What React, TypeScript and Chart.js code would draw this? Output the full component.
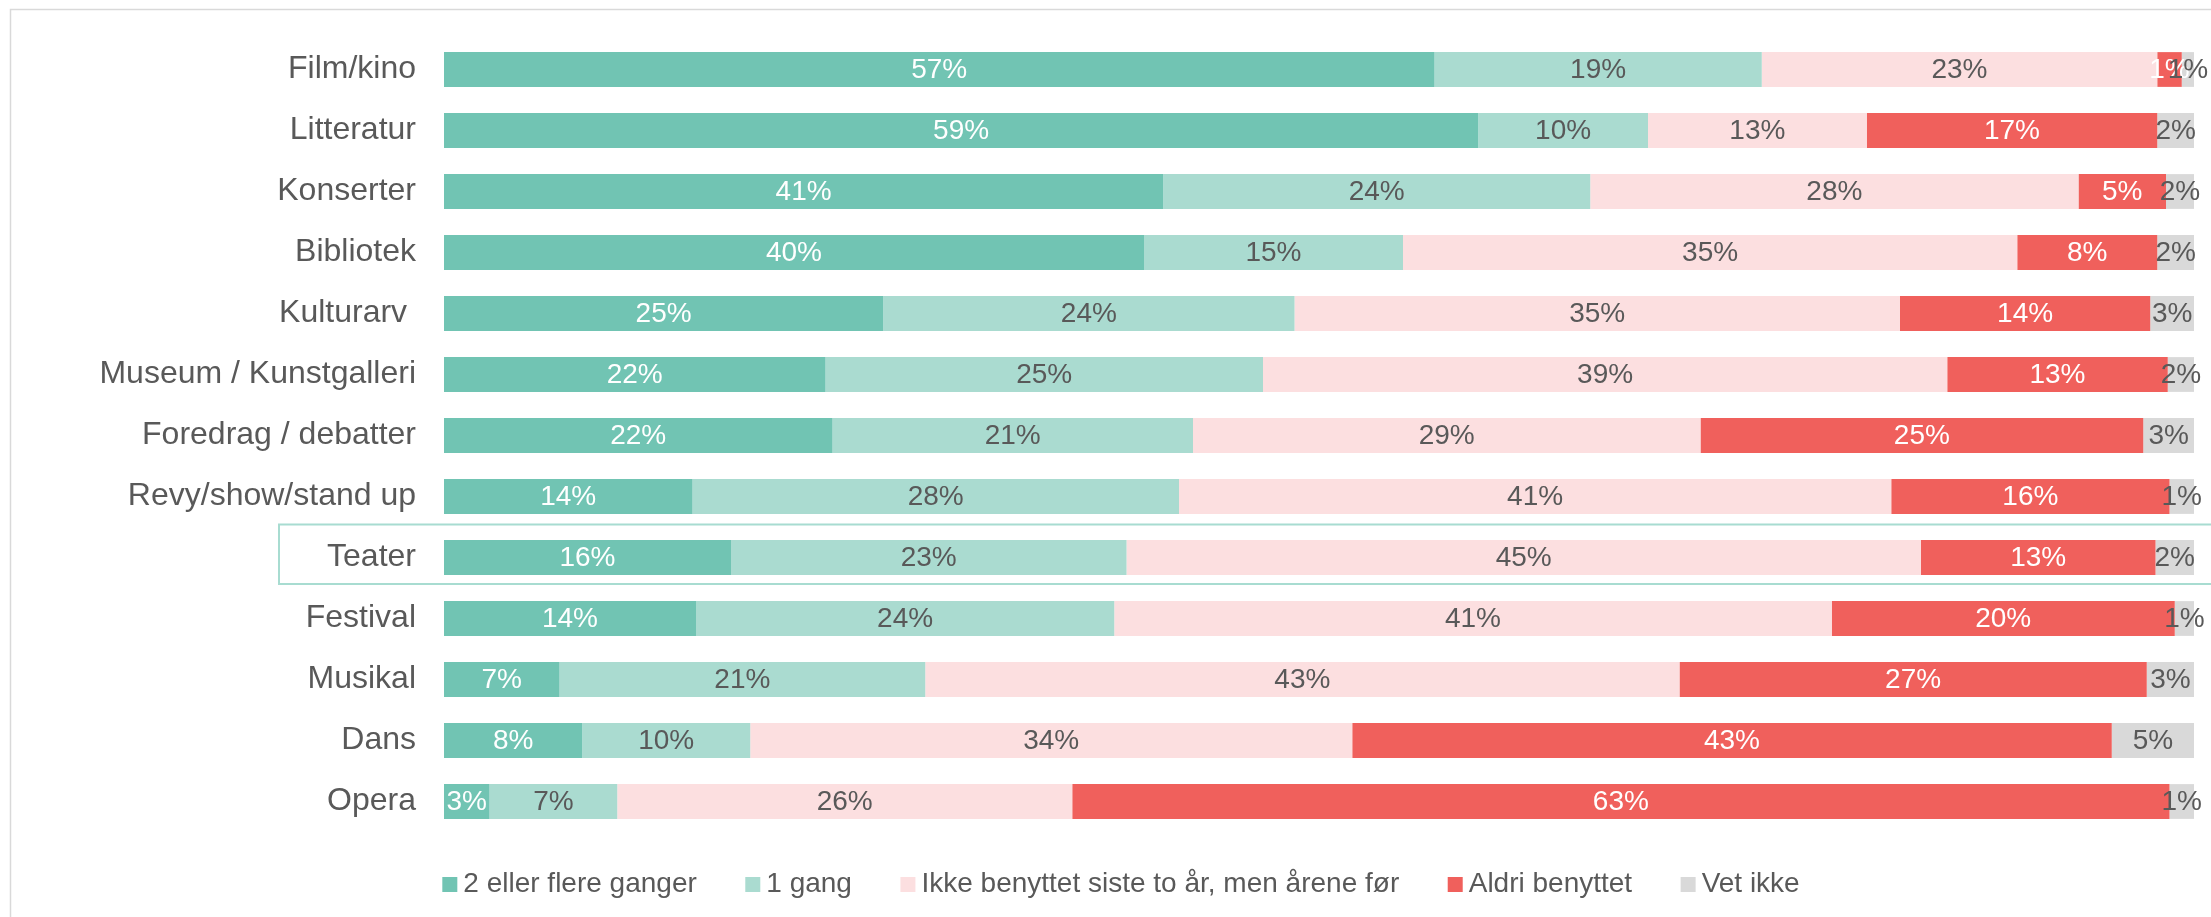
import React, { useEffect, useRef } from 'react';
import { Chart, registerables } from 'chart.js';

Chart.register(...registerables);

const categories = [
  'Film/kino',
  'Litteratur',
  'Konserter',
  'Bibliotek',
  'Kulturarv ',
  'Museum / Kunstgalleri',
  'Foredrag / debatter',
  'Revy/show/stand up',
  'Teater',
  'Festival',
  'Musikal',
  'Dans',
  'Opera',
];

const seriesNames = [
  '2 eller flere ganger',
  '1 gang',
  'Ikke benyttet siste to år, men årene før',
  'Aldri benyttet',
  'Vet ikke',
];

const flereGanger = [56.6, 59.1, 41.1, 40.0, 25.1, 21.8, 22.2, 14.2, 16.4, 14.4, 6.6, 7.9, 2.6];
const enGang = [18.7, 9.7, 24.4, 14.8, 23.5, 25.0, 20.6, 27.8, 22.6, 23.9, 20.9, 9.6, 7.3];
const ikkeSiste = [22.6, 12.5, 27.9, 35.1, 34.6, 39.1, 29.0, 40.7, 45.4, 41.0, 43.1, 34.4, 26.0];
const aldri = [1.4, 16.6, 5.0, 8.0, 14.3, 12.6, 25.3, 15.9, 13.4, 19.6, 26.7, 43.4, 62.7];
const vetIkke = [0.7, 2.1, 1.6, 2.1, 2.5, 1.5, 2.9, 1.4, 2.2, 1.1, 2.7, 4.7, 1.4];

const highlighted = 'Teater';

const colors = ['#71C4B3', '#AADBD0', '#FCDFE0', '#F0605C', '#D9D9D9'];
const labelColors = ['#FFFFFF', '#595959', '#595959', '#FFFFFF', '#595959'];
const textColor = '#595959';
const FONT = "'Liberation Sans', Arial, sans-serif";

const W = 2211;
const H = 917;

const framePlugin = {
  id: 'frame',
  beforeDraw(chart: any) {
    const ctx = chart.ctx;
    ctx.save();
    ctx.fillStyle = '#FFFFFF';
    ctx.fillRect(0, 0, chart.width, chart.height);
    ctx.strokeStyle = '#D9D9D9';
    ctx.lineWidth = 1.5;
    ctx.beginPath();
    ctx.moveTo(10.5, chart.height + 5);
    ctx.lineTo(10.5, 9.5);
    ctx.lineTo(chart.width + 5, 9.5);
    ctx.stroke();
    ctx.restore();
  },
};

const labelsPlugin = {
  id: 'segLabels',
  afterDatasetsDraw(chart: any) {
    const ctx = chart.ctx;
    ctx.save();
    ctx.font = `28px ${FONT}`;
    ctx.textAlign = 'center';
    ctx.textBaseline = 'middle';
    chart.data.datasets.forEach((ds: any, di: number) => {
      const meta = chart.getDatasetMeta(di);
      meta.data.forEach((el: any, i: number) => {
        const v = ds.data[i];
        const p = el.getProps(['x', 'y', 'base'], true);
        const cx = (p.x + p.base) / 2;
        ctx.fillStyle = labelColors[di];
        ctx.fillText(Math.round(v) + '%', cx, p.y + 1);
      });
    });
    ctx.restore();
  },
};

const highlightPlugin = {
  id: 'highlight',
  afterDraw(chart: any) {
    const y = chart.scales.y.getPixelForValue(categories.indexOf(highlighted));
    const ctx = chart.ctx;
    ctx.save();
    ctx.strokeStyle = '#A8DCD1';
    ctx.lineWidth = 2;
    ctx.strokeRect(279, y - 33, chart.width + 20, 59.5);
    ctx.restore();
  },
};

const legendPlugin = {
  id: 'customLegend',
  afterDraw(chart: any) {
    const ctx = chart.ctx;
    ctx.save();
    ctx.font = `28px ${FONT}`;
    ctx.textBaseline = 'middle';
    ctx.textAlign = 'left';
    const box = 15;
    const gapText = 6;
    const gapItem = 48.5;
    const widths = seriesNames.map((n) => ctx.measureText(n).width);
    const total =
      widths.reduce((a, b) => a + b, 0) + seriesNames.length * (box + gapText) + gapItem * (seriesNames.length - 1);
    const centerX = (10 + 2232) / 2;
    let x = centerX - total / 2;
    const y = 884;
    seriesNames.forEach((n, i) => {
      ctx.fillStyle = colors[i];
      ctx.fillRect(x, y - box / 2 + 0.5, box, box);
      ctx.fillStyle = textColor;
      ctx.fillText(n, x + box + gapText, y);
      x += box + gapText + widths[i] + gapItem;
    });
    ctx.restore();
  },
};

export default function App() {
  const ref = useRef<HTMLCanvasElement | null>(null);

  useEffect(() => {
    if (!ref.current) return;
    const seriesData = [flereGanger, enGang, ikkeSiste, aldri, vetIkke];
    const chart = new Chart(ref.current, {
      type: 'bar',
      data: {
        labels: categories,
        datasets: seriesNames.map((name, i) => ({
          label: name,
          data: seriesData[i],
          backgroundColor: colors[i],
          borderWidth: 0,
          categoryPercentage: 1,
          barPercentage: 0.57,
        })),
      },
      options: {
        indexAxis: 'y',
        responsive: false,
        animation: false,
        devicePixelRatio: 1,
        layout: { padding: { top: 39, bottom: 85, right: 17, left: 0 } },
        plugins: {
          legend: { display: false },
          tooltip: { enabled: false },
          title: { display: false },
        },
        scales: {
          x: {
            stacked: true,
            min: 0,
            max: 100,
            display: false,
          },
          y: {
            stacked: true,
            grid: { display: false, drawTicks: false },
            border: { display: false },
            ticks: {
              color: textColor,
              font: { family: FONT, size: 32 },
              padding: 28,
              autoSkip: false,
            },
            afterFit: (scale: any) => {
              scale.width = 444;
              scale.paddingTop = 0;
              scale.paddingBottom = 0;
            },
          },
        },
      },
      plugins: [framePlugin, labelsPlugin, highlightPlugin, legendPlugin],
    } as any);
    return () => chart.destroy();
  }, []);

  return (
    <div
      style={{
        position: 'fixed',
        left: 0,
        top: 0,
        width: W,
        height: H,
        background: '#FFFFFF',
        overflow: 'hidden',
      }}
    >
      <canvas ref={ref} width={W} height={H} style={{ width: W, height: H, display: 'block' }} />
    </div>
  );
}
